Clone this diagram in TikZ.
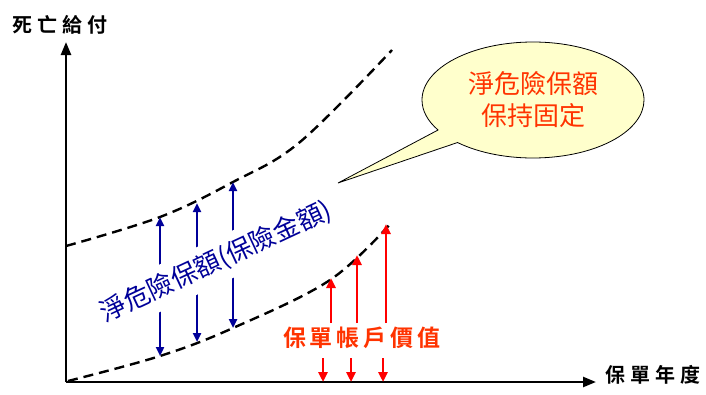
\documentclass[tikz,border=0pt]{standalone}
\usepackage{fontspec}
\usetikzlibrary{arrows.meta,shapes.callouts,shapes.geometric}
\newfontfamily\cjk{Noto Sans CJK TC}
\newfontfamily\cjkb{Noto Sans CJK TC Bold}
\definecolor{navy}{HTML}{000099}
\definecolor{redarrow}{HTML}{FF0000}
\definecolor{redtext}{HTML}{FF3300}
\definecolor{bubblefill}{HTML}{FFFFCC}
\begin{document}
\begin{tikzpicture}[x=1pt,y=-1pt,
  ax/.style={line width=2.4pt,-{Triangle[length=13pt,width=10pt]}},
  dcurve/.style={line width=2.4pt,dash pattern=on 10pt off 6pt},
  barrow/.style={draw=navy,line width=2.4pt,{Triangle[length=9pt,width=8pt]}-{Triangle[length=9pt,width=8pt]}},
  rarrow/.style={draw=redarrow,line width=2.6pt,-{Triangle[length=10pt,width=9pt]}},
  axlabel/.style={font=\cjkb\fontsize{20}{20}\selectfont,text=black,inner sep=0pt},
]
\useasboundingbox (0,0) rectangle (706,394);
% axes
\coordinate (O) at (66,382);
\coordinate (Ytip) at (66,42);
\coordinate (Xtip) at (596,382);
\draw[ax] (O) -- (Ytip);
\draw[ax] (O) -- (Xtip);
\node[axlabel] (ylab) at (60,25) {死\hspace{5pt}亡\hspace{5pt}給\hspace{5pt}付};
\node[axlabel] (xlab) at (653,375) {保\hspace{5pt}單\hspace{5pt}年\hspace{5pt}度};
% dashed curves
\draw[dcurve] plot[smooth,tension=0.6] coordinates {(66,246) (160,217) (233,182) (300,142) (392,50)};
\draw[dcurve] plot[smooth,tension=0.6] coordinates {(68,381) (160,356) (233,328) (330,280) (392,222)};
% blue double arrows
\coordinate (b1t) at (160,217); \coordinate (b1b) at (160,356);
\coordinate (b2t) at (197,203); \coordinate (b2b) at (197,342);
\coordinate (b3t) at (233,182); \coordinate (b3b) at (233,328);
\draw[barrow] (b1b) -- (b1t);
\draw[barrow] (b2b) -- (b2t);
\draw[barrow] (b3b) -- (b3t);
\node[rotate=25,fill=white,inner xsep=1pt,inner ysep=8pt,text=navy,font=\cjk\fontsize{26}{26}\selectfont] (nar) at (216,262) {淨危險保額(保險金額)};
% red arrows
\coordinate (r1b) at (331,323); \coordinate (r1t) at (331,278);
\coordinate (r2b) at (357,323); \coordinate (r2t) at (357,255);
\coordinate (r3b) at (386,323); \coordinate (r3t) at (386,224);
\draw[rarrow] (r1b) -- (r1t);
\draw[rarrow] (r2b) -- (r2t);
\draw[rarrow] (r3b) -- (r3t);
\coordinate (d1t) at (323,358); \coordinate (d1b) at (323,382);
\coordinate (d2t) at (351,358); \coordinate (d2b) at (351,382);
\coordinate (d3t) at (383,358); \coordinate (d3b) at (383,382);
\draw[rarrow] (d1t) -- (d1b);
\draw[rarrow] (d2t) -- (d2b);
\draw[rarrow] (d3t) -- (d3b);
\node[text=redtext,font=\cjkb\fontsize{23}{23}\selectfont,inner sep=0pt] (acct) at (362,338) {保\hspace{4pt}單\hspace{4pt}帳\hspace{4pt}戶\hspace{4pt}價\hspace{4pt}值};
% callout
\coordinate (tip) at (338,183);
\node[ellipse callout,draw=black,line width=0.8pt,fill=bubblefill,minimum width=222pt,minimum height=116pt,inner sep=0pt,
  callout absolute pointer={(tip)},callout pointer arc=16,
  text=redtext,align=center,font=\cjk\fontsize{26}{32}\selectfont] (bubble) at (533,100) {淨危險保額\\保持固定};
\end{tikzpicture}
\end{document}
